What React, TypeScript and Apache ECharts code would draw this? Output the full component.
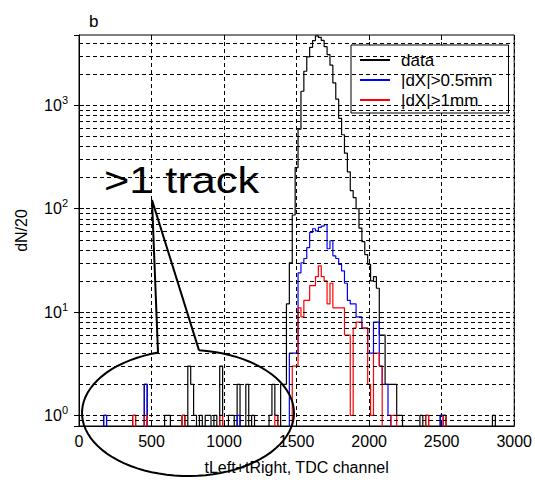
import React, { useEffect, useRef } from "react";
import * as echarts from "echarts";

const BIN_WIDTH = 20;
const X_MIN = 0;
const X_MAX = 3000;
const X_INTERVAL = 500;
const Y_MIN = 0.79;
const Y_MAX = 4800;
const ZERO_FLOOR = 0.01;

const seriesNames = ["data", "|dX|>0.5mm", "|dX|>1mm"];
const seriesColors = ["#000000", "#0000ff", "#ff0000"];

// log-grid line values (2..9 per decade)
const yGridValues = [
  0.9, 1, 2, 3, 4, 5, 6, 7, 8, 9, 10, 20, 30, 40, 50, 60, 70, 80, 90,
  100, 200, 300, 400, 500, 600, 700, 800, 900, 1000, 2000, 3000, 4000,
];

// [bin centre, count]
const dataBins: [number, number][] = [
  [180, 1], [380, 1], [460, 2], [600, 1], [620, 1], [720, 1], [760, 3], [780, 2],
  [800, 1], [840, 1], [880, 1], [900, 1], [940, 1], [980, 3], [1040, 1], [1060, 1],
  [1100, 2], [1160, 2], [1200, 1], [1320, 1], [1340, 2], [1360, 1], [1400, 2], [1420, 2],
  [1440, 12], [1460, 30], [1480, 87], [1500, 250], [1520, 590], [1540, 1370],
  [1560, 2140], [1580, 2950], [1600, 3650], [1620, 4240], [1640, 4700], [1660, 4550],
  [1680, 4250], [1700, 3700], [1720, 3100], [1740, 2450], [1760, 1650], [1780, 1150],
  [1800, 750], [1820, 520], [1840, 345], [1860, 227], [1880, 150], [1900, 128],
  [1920, 100], [1940, 65], [1960, 48], [1980, 36], [2000, 29], [2020, 20], [2040, 22],
  [2060, 17], [2080, 6], [2100, 6], [2120, 2], [2140, 2], [2160, 2], [2180, 2],
  [2200, 1], [2220, 1], [2360, 1], [2400, 1], [2500, 1], [2520, 1], [2860, 1],
];

const dx05Bins: [number, number][] = [
  [180, 1], [460, 2], [1100, 1], [1460, 4], [1480, 4], [1500, 4], [1520, 24],
  [1540, 30], [1560, 33], [1580, 42], [1600, 59], [1620, 64], [1640, 61], [1660, 66],
  [1680, 68], [1700, 70], [1720, 41], [1740, 49], [1760, 35], [1780, 33], [1800, 29],
  [1820, 25], [1840, 19], [1860, 13], [1880, 12], [1900, 12], [1920, 9], [1940, 9],
  [1960, 7], [1980, 7], [2000, 4], [2020, 4], [2040, 8], [2060, 8], [2080, 3],
  [2100, 2], [2120, 2], [2140, 1], [2500, 1],
];

const dx1Bins: [number, number][] = [
  [380, 1], [460, 1], [720, 1], [980, 1], [1360, 1], [1480, 3], [1500, 3], [1520, 11],
  [1540, 9], [1560, 13], [1580, 13], [1600, 18], [1620, 18], [1640, 22], [1660, 28],
  [1680, 22], [1700, 20], [1720, 12], [1740, 19], [1760, 11], [1780, 11], [1800, 11],
  [1820, 11], [1840, 6], [1860, 6], [1880, 1], [1900, 7], [1920, 8], [1940, 8],
  [1960, 7], [1980, 7], [2000, 2], [2020, 1], [2040, 4], [2060, 4], [2080, 3],
  [2160, 1], [2180, 1], [2400, 1], [2520, 1],
];

const FONT = "'Liberation Sans', Arial, sans-serif";

function expand(bins: [number, number][]) {
  const m = new Map<number, number>(bins);
  const out: [number, number][] = [];
  for (let c = X_MIN; c <= X_MAX; c += BIN_WIDTH) {
    const n = m.get(c) ?? 0;
    out.push([c, n > 0 ? n : ZERO_FLOOR]);
  }
  return out;
}

function calloutPoints() {
  const cx = 188, cy = 413, rx = 106, ry = 63;
  const a0 = Math.atan2(-0.995, 0.104);
  const a1 = Math.atan2(-0.959, -0.283) + 2 * Math.PI;
  const pts: number[][] = [];
  const n = 80;
  for (let i = 0; i <= n; i++) {
    const a = a0 + ((a1 - a0) * i) / n;
    pts.push([cx + rx * Math.cos(a), cy + ry * Math.sin(a)]);
  }
  pts.push([152, 200]);
  pts.push(pts[0]);
  return pts;
}

export default function App() {
  const ref = useRef<HTMLDivElement>(null);
  useEffect(() => {
    if (!ref.current) return;
    const chart = echarts.init(ref.current, undefined, { renderer: "svg" });
    const binSets = [dataBins, dx05Bins, dx1Bins];
    const option: any = {
      animation: false,
      backgroundColor: "#fff",
      title: {
        text: "b",
        left: 84,
        top: 8,
        textStyle: { fontSize: 17, fontWeight: "normal", fontFamily: FONT, color: "#000" },
      },
      grid: {
        left: 79, right: 15, top: 35, bottom: 46,
        show: true, borderColor: "#000", borderWidth: 1, backgroundColor: "transparent",
      },
      legend: {
        data: seriesNames,
        orient: "vertical",
        left: 351,
        top: 45,
        icon: "rect",
        itemWidth: 30,
        itemHeight: 2,
        itemGap: 0,
        padding: [5, 16, 3, 9],
        backgroundColor: "#fff",
        borderColor: "#000",
        borderWidth: 1,
        selectedMode: false,
        textStyle: { fontSize: 17, fontFamily: FONT, color: "#000", padding: [0, 0, 0, 6], lineHeight: 20 },
      },
      xAxis: [
        {
          type: "value", min: X_MIN, max: X_MAX, interval: X_INTERVAL,
          axisLine: { show: true, lineStyle: { color: "#000", width: 1 } },
          axisTick: { show: true, inside: true, length: 5, lineStyle: { color: "#000" } },
          axisLabel: {
            margin: 7, fontSize: 16, fontFamily: FONT, color: "#000",
            formatter: (v: number) => String(v),
          },
          splitLine: { show: true, lineStyle: { type: [4, 3], color: "#000", width: 1 } },
          name: "tLeft+tRight, TDC channel",
          nameLocation: "middle",
          nameGap: 33,
          nameTextStyle: { fontSize: 16, fontFamily: FONT, color: "#000" },
        },
        {
          type: "value", min: X_MIN, max: X_MAX, interval: X_INTERVAL, position: "top",
          axisLine: { show: false },
          axisTick: { show: true, inside: true, length: 5, lineStyle: { color: "#000" } },
          axisLabel: { show: false },
          splitLine: { show: false },
        },
      ],
      yAxis: [
        {
          type: "log", logBase: 10, min: Y_MIN, max: Y_MAX,
          axisLine: { show: true, lineStyle: { color: "#000", width: 1 } },
          axisTick: { show: true, inside: true, length: 5, lineStyle: { color: "#000" } },
          axisLabel: {
            margin: 11,
            showMinLabel: false,
            showMaxLabel: false,
            formatter: (v: number) => {
              const e = Math.log10(v);
              const r = Math.round(e);
              if (Math.abs(e - r) > 1e-6) return "";
              return "{b|10}{s|" + r + "}";
            },
            rich: {
              b: { fontSize: 16, fontFamily: FONT, color: "#000", lineHeight: 22 },
              s: { fontSize: 11, fontFamily: FONT, color: "#000", verticalAlign: "top", lineHeight: 12 },
            },
          },
          splitLine: { show: false },
          name: "dN/20",
          nameLocation: "middle",
          nameGap: 50,
          nameTextStyle: { fontSize: 16, fontFamily: FONT, color: "#000" },
        },
        {
          type: "log", logBase: 10, min: Y_MIN, max: Y_MAX, position: "right",
          axisLine: { show: false },
          axisTick: { show: true, inside: true, length: 5, lineStyle: { color: "#000" } },
          axisLabel: { show: false },
          splitLine: { show: false },
        },
      ],
      series: [
        {
          type: "line",
          name: "grid",
          data: [],
          silent: true,
          markLine: {
            silent: true,
            animation: false,
            symbol: ["none", "none"],
            label: { show: false },
            lineStyle: { type: [4, 3], color: "#000", width: 1 },
            emphasis: { disabled: true },
            data: yGridValues.map((v) => ({ yAxis: v })),
          },
        },
        ...seriesNames.map((name, i) => ({
          type: "line",
          name,
          data: expand(binSets[i]),
          step: "middle",
          symbol: "none",
          showSymbol: false,
          clip: true,
          silent: true,
          lineStyle: { color: seriesColors[i], width: 1.2 },
          itemStyle: { color: seriesColors[i] },
        })),
      ],
      graphic: [
        {
          type: "text",
          x: 104,
          y: 181,
          scaleX: 1.17,
          style: {
            text: ">1 track",
            fill: "#000",
            font: "37px 'Liberation Sans', Arial, sans-serif",
            verticalAlign: "middle",
          },
          z: 100,
        },
        {
          type: "polyline",
          shape: { points: calloutPoints() },
          style: { stroke: "#000", lineWidth: 2, fill: "none" },
          z: 100,
        },
      ],
    };
    chart.setOption(option);
    return () => chart.dispose();
  }, []);
  return (
    <div
      ref={ref}
      style={{ position: "absolute", left: 0, top: 0, width: 535, height: 480, background: "#fff" }}
    />
  );
}
